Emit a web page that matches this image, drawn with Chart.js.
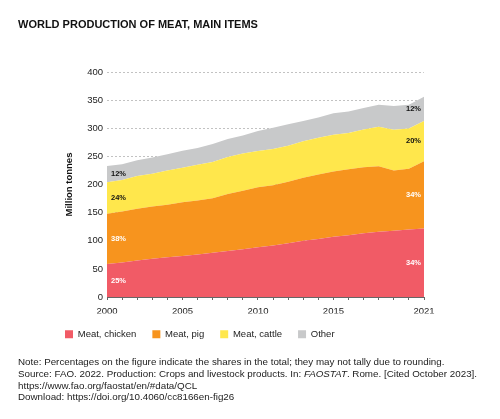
<!DOCTYPE html>
<html><head><meta charset="utf-8">
<script src="https://cdn.jsdelivr.net/npm/chart.js@4"></script>
<style>
html,body{margin:0;padding:0;background:#fff;}
#wrap{position:relative;width:500px;height:419px;overflow:hidden;background:#fff;}
canvas{position:absolute;left:0;top:0;}
#title{position:absolute;left:18px;top:18px;font:bold 11px "Liberation Sans",Arial,sans-serif;color:#111;white-space:nowrap;}
#notes{position:absolute;left:18px;top:356px;font:9.8px/11.8px "Liberation Sans",Arial,sans-serif;color:#222;white-space:nowrap;}
</style></head>
<body><div id="wrap"><canvas id="c" width="500" height="419"></canvas>
<div id="title">WORLD PRODUCTION OF MEAT, MAIN ITEMS</div>
<div id="notes">Note: Percentages on the figure indicate the shares in the total; they may not tally due to rounding.<br>Source: FAO. 2022. Production: Crops and livestock products. In: <i>FAOSTAT</i>. Rome. [Cited October 2023].<br>https://www.fao.org/faostat/en/#data/QCL<br>Download: https://doi.org/10.4060/cc8166en-fig26</div>
</div>
<script>
const years = ['2000','2001','2002','2003','2004','2005','2006','2007','2008','2009','2010','2011','2012','2013','2014','2015','2016','2017','2018','2019','2020','2021'];
const shownYears = ['2000','2005','2010','2015','2021'];
const seriesNames = ['Meat, chicken','Meat, pig','Meat, cattle','Other'];
const chicken = [58.5,61.5,65,68,70.5,73,75.5,78.5,82,85,88.5,91.5,95.5,100,103,107,110,113.5,116,118,120,122];
const pig = [89.5,90.5,92,93,93.5,95.5,96,97,101,104,106.5,107,109.5,112,115,116,117,117,116.5,107,108,119.5];
const cattle = [56,56,58,58,61,61.5,63.5,64.5,66,66,64.5,64.5,64,65,65,65.5,64.5,67.5,70,72.5,71.5,71.5];
const other = [29,28,28,29,29,30,30,32,32,32,35.5,38,38,36,36,38,38.5,38,39.5,42,42.5,43];
const shares2000 = ['25%','38%','24%','12%'];
const shares2021 = ['34%','34%','20%','12%'];
const yTicks = [0,50,100,150,200,250,300,350,400];

const colors = ['#f15b66','#f7941e','#ffe74c','#c8c9ca'];
const labelColors = ['#ffffff','#ffffff','#111111','#111111'];
const allSeries = [chicken,pig,cattle,other];

Chart.defaults.font.family = '"Liberation Sans", Arial, sans-serif';

const shareLabels = {
  id:'shareLabels',
  afterDatasetsDraw(chart){
    const {ctx, chartArea, scales:{y}} = chart;
    ctx.save();
    ctx.font = 'bold 7.5px "Liberation Sans", Arial, sans-serif';
    ctx.textBaseline = 'middle';
    const last = years.length-1;
    [[0,shares2000,'left',chartArea.left+4],[last,shares2021,'right',chartArea.right-3]].forEach(([idx,arr,align,x])=>{
      let base = 0;
      allSeries.forEach((s,i)=>{
        const top = base + s[idx];
        const py = y.getPixelForValue((base+top)/2);
        ctx.fillStyle = labelColors[i];
        ctx.textAlign = align;
        ctx.fillText(arr[i], x, py);
        base = top;
      });
    });
    ctx.restore();
  }
};

new Chart(document.getElementById('c'), {
  type:'line',
  data:{
    labels: years,
    datasets: allSeries.map((s,i)=>({
      label: seriesNames[i],
      data: s,
      backgroundColor: colors[i],
      borderColor: colors[i],
      borderWidth: 0,
      pointRadius: 0,
      tension: 0,
      fill: i===0 ? 'origin' : '-1'
    }))
  },
  options:{
    responsive:false,
    animation:false,
    devicePixelRatio:1,
    layout:{padding:{left:49,right:76,top:72,bottom:70}},
    plugins:{
      legend:{
        position:'bottom',
        align:'start',
        labels:{boxWidth:8,boxHeight:8,padding:16,color:'#222',font:{size:9.5}}
      },
      tooltip:{enabled:false}
    },
    scales:{
      x:{
        stacked:true,
        offset:false,
        afterFit:s=>{s.height=16.5;},
        grid:{drawOnChartArea:false,drawTicks:true,tickLength:3,color:'#666',lineWidth:1},
        border:{display:true,color:'#666',width:1},
        ticks:{autoSkip:false,maxRotation:0,padding:6,color:'#222',font:{size:9.5},
          callback:function(v,i){const l=years[i];return shownYears.includes(l)?l:'';}}
      },
      y:{
        stacked:true,
        min:0,max:400,
        afterFit:s=>{s.width=58;},
        afterBuildTicks:s=>{s.ticks=yTicks.map(v=>({value:v}));},
        grid:{drawTicks:false,color:'#9a9a9a',lineWidth:0.6},
        border:{display:false,dash:[2,2]},
        ticks:{padding:4,color:'#222',font:{size:9.5}},
        title:{display:true,text:'Million tonnes',color:'#111',font:{size:9.5,weight:'bold'},padding:{top:15,bottom:0}}
      }
    }
  },
  plugins:[shareLabels]
});
</script>
</body></html>
